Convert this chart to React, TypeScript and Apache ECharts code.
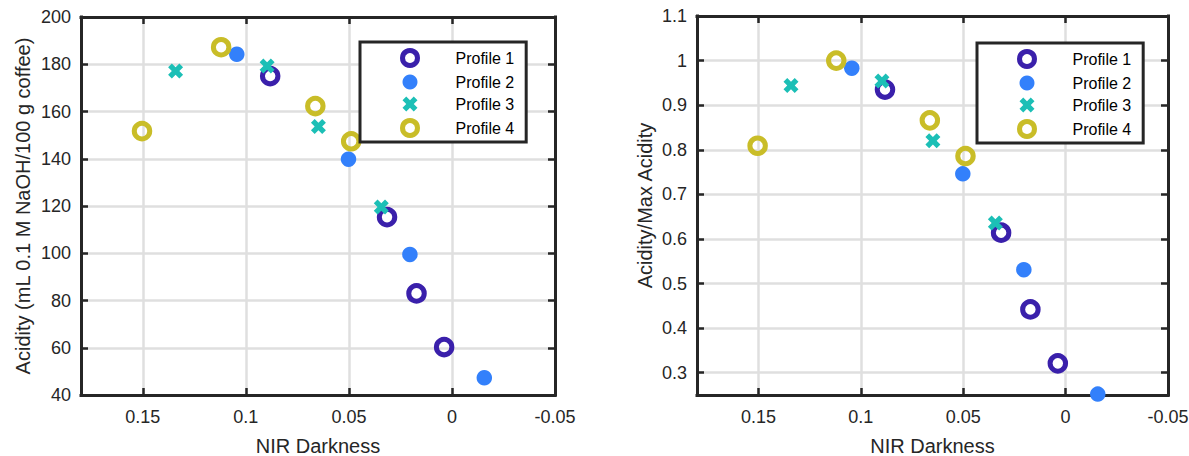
import React, { useEffect, useRef } from "react";
import * as echarts from "echarts";

// ---- data ----
const profileNames = ["Profile 1", "Profile 2", "Profile 3", "Profile 4"];

const nirP1 = [0.0882, 0.0315, 0.0172, 0.0038];
const acidP1 = [175, 115.3, 83, 60.3];
const normP1 = [0.935, 0.614, 0.442, 0.321];

const nirP2 = [0.1044, 0.0502, 0.0204, -0.0157];
const acidP2 = [184.2, 139.8, 99.5, 47.3];
const normP2 = [0.983, 0.746, 0.531, 0.252];

const nirP3 = [0.1341, 0.0897, 0.0648, 0.0343];
const acidP3 = [177.1, 179.3, 153.6, 119.6];
const normP3 = [0.944, 0.954, 0.82, 0.636];

const nirP4 = [0.1504, 0.112, 0.0663, 0.0489];
const acidP4 = [151.7, 187.2, 162.3, 147.4];
const normP4 = [0.809, 1.0, 0.866, 0.786];

const xTickLabels = [0.15, 0.1, 0.05, 0, -0.05];
const xTickInner = [0.15, 0.1, 0.05, 0];
const yLeftLabels = [40, 60, 80, 100, 120, 140, 160, 180, 200];
const yLeftInner = [60, 80, 100, 120, 140, 160, 180];
const yRightLabels = [0.3, 0.4, 0.5, 0.6, 0.7, 0.8, 0.9, 1.0, 1.1];
const yRightInner = [0.3, 0.4, 0.5, 0.6, 0.7, 0.8, 0.9, 1.0];

// ---- styles ----
const DARK = "#262626";
const GRIDC = "#dfdfdf";
const FONT = "'Liberation Sans', Arial, Helvetica, sans-serif";
const COLORS = ["#3a20ab", "#3380fb", "#1cbfb6", "#c9bd28"];
const CROSS =
  "path://M0,25 L25,0 L50,25 L75,0 L100,25 L75,50 L100,75 L75,100 L50,75 L25,100 L0,75 L25,50 Z";

const pairs = (xs: number[], ys: number[]) => xs.map((x, i) => [x, ys[i]]);

function xAxes(grid: number) {
  const common = {
    type: "value",
    gridIndex: grid,
    min: -0.05,
    max: 0.18,
    inverse: true,
    axisLine: { show: true, onZero: false, lineStyle: { color: DARK, width: 3, cap: "square" } },
    axisTick: {
      show: true,
      inside: true,
      length: 7,
      customValues: xTickInner,
      lineStyle: { color: DARK, width: 2.5 },
    },
  };
  return [
    {
      ...common,
      position: "bottom",
      name: "NIR Darkness",
      nameLocation: "middle",
      nameGap: 41,
      nameTextStyle: { fontSize: 20, color: DARK, fontFamily: FONT },
      axisLabel: {
        show: true,
        customValues: xTickLabels,
        margin: 13,
        fontSize: 18,
        color: DARK,
        fontFamily: FONT,
        formatter: (v: number) => `${+v.toFixed(2)}`,
      },
      splitLine: { show: true, lineStyle: { color: GRIDC, width: 2.5 } },
    },
    {
      ...common,
      position: "top",
      axisLabel: { show: false },
      splitLine: { show: false },
    },
  ];
}

function yAxes(grid: number, min: number, max: number, labels: number[], inner: number[], name: string, gap: number, dec: number) {
  const common = {
    type: "value",
    gridIndex: grid,
    min,
    max,
    axisLine: { show: true, onZero: false, lineStyle: { color: DARK, width: 3, cap: "square" } },
    axisTick: {
      show: true,
      inside: true,
      length: 7,
      customValues: inner,
      lineStyle: { color: DARK, width: 2.5 },
    },
  };
  return [
    {
      ...common,
      position: "left",
      name,
      nameLocation: "middle",
      nameGap: gap,
      nameTextStyle: { fontSize: 20, color: DARK, fontFamily: FONT },
      axisLabel: {
        show: true,
        customValues: labels,
        margin: 10,
        fontSize: 18,
        color: DARK,
        fontFamily: FONT,
        formatter: (v: number) => `${+v.toFixed(dec)}`,
      },
      splitLine: { show: true, lineStyle: { color: GRIDC, width: 2.5 } },
    },
    {
      ...common,
      position: "right",
      axisLabel: { show: false },
      splitLine: { show: false },
    },
  ];
}

function seriesFor(axisIdx: number, ys: number[][]) {
  const xs = [nirP1, nirP2, nirP3, nirP4];
  const ring = (c: string) => ({ color: "transparent", borderColor: c, borderWidth: 5, opacity: 1 });
  return [
    {
      name: profileNames[0],
      type: "scatter",
      xAxisIndex: axisIdx,
      yAxisIndex: axisIdx,
      symbol: "circle",
      symbolSize: 15.5,
      itemStyle: ring(COLORS[0]),
      data: pairs(xs[0], ys[0]),
    },
    {
      name: profileNames[1],
      type: "scatter",
      xAxisIndex: axisIdx,
      yAxisIndex: axisIdx,
      symbol: "circle",
      symbolSize: 15.5,
      itemStyle: { color: COLORS[1], borderWidth: 0, opacity: 1 },
      data: pairs(xs[1], ys[1]),
    },
    {
      name: profileNames[2],
      type: "scatter",
      xAxisIndex: axisIdx,
      yAxisIndex: axisIdx,
      symbol: CROSS,
      symbolSize: 15,
      itemStyle: { color: COLORS[2], borderWidth: 0, opacity: 1 },
      data: pairs(xs[2], ys[2]),
    },
    {
      name: profileNames[3],
      type: "scatter",
      xAxisIndex: axisIdx,
      yAxisIndex: axisIdx,
      symbol: "circle",
      symbolSize: 15.5,
      itemStyle: ring(COLORS[3]),
      data: pairs(xs[3], ys[3]),
    },
  ];
}

function legendAt(left: number, top: number) {
  return {
    show: true,
    orient: "vertical",
    left,
    top,
    padding: [6, 12, 4, 40],
    itemWidth: 15,
    itemHeight: 15,
    itemGap: 6,
    borderColor: DARK,
    borderWidth: 3,
    backgroundColor: "#ffffff",
    selectedMode: false,
    data: [
      { name: profileNames[0], itemStyle: { borderWidth: 5, opacity: 1 } },
      { name: profileNames[1], itemStyle: { opacity: 1 } },
      { name: profileNames[2], itemStyle: { opacity: 1 } },
      { name: profileNames[3], itemStyle: { borderWidth: 5, opacity: 1 } },
    ],
    formatter: "{t|{name}}",
    textStyle: {
      rich: {
        t: {
          fontSize: 16,
          lineHeight: 16,
          height: 16,
          color: "#000",
          fontFamily: FONT,
          padding: [0, 0, 0, 33],
        },
      },
    },
  };
}

export default function App() {
  const ref = useRef<HTMLDivElement>(null);
  useEffect(() => {
    document.body.style.margin = "0";
    const chart = echarts.init(ref.current!, null, { renderer: "svg" });
    chart.setOption({
      animation: false,
      backgroundColor: "#ffffff",
      grid: [
        { left: 81, top: 17, width: 474, height: 378, containLabel: false, outerBoundsMode: "none" },
        { left: 697, top: 16, width: 471, height: 379, containLabel: false, outerBoundsMode: "none" },
      ],
      xAxis: [...xAxes(0), ...xAxes(1)],
      yAxis: [
        ...yAxes(0, 40, 200, yLeftLabels, yLeftInner, "Acidity (mL 0.1 M NaOH/100 g coffee)", 48, 0),
        ...yAxes(1, 0.25, 1.1, yRightLabels, yRightInner, "Acidity/Max Acidity", 42, 1),
      ],
      legend: [legendAt(360, 42), legendAt(977, 43)],
      series: [
        ...seriesFor(0, [acidP1, acidP2, acidP3, acidP4]),
        ...seriesFor(2, [normP1, normP2, normP3, normP4]),
      ],
    });
    return () => chart.dispose();
  }, []);
  return <div ref={ref} style={{ width: 1189, height: 456 }} />;
}
